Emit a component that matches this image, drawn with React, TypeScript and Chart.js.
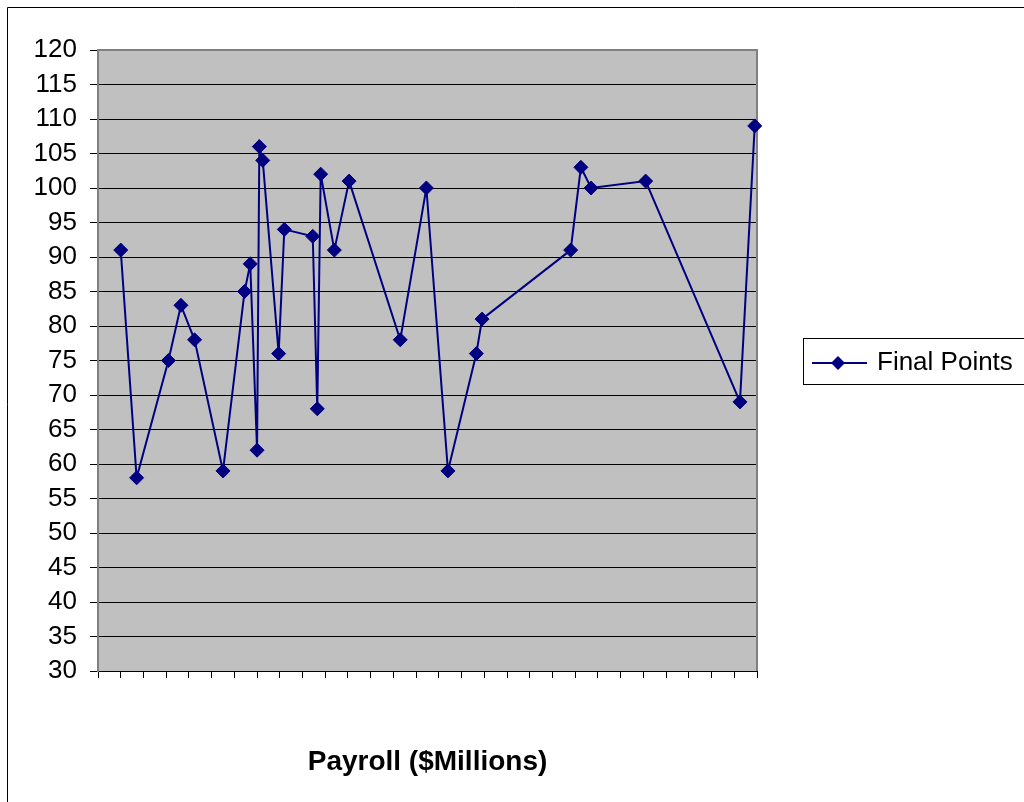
import React, { useEffect, useRef } from "react";
import { Chart, registerables } from "chart.js";

Chart.register(...registerables);

// Data
const payrollMillions: number[] = [
  22.0, 23.4, 26.2, 27.3, 28.5, 31.0, 32.9, 33.4, 34.0, 34.2, 34.5, 35.9, 36.4,
  38.9, 39.3, 39.6, 40.8, 42.1, 46.6, 48.9, 50.8, 53.3, 53.8, 61.6, 62.5, 63.4,
  68.2, 76.5, 77.8,
];
const finalPoints: number[] = [
  91, 58, 75, 83, 78, 59, 85, 89, 62, 106, 104, 76, 94, 93, 68, 102, 91, 101,
  78, 100, 59, 76, 81, 91, 103, 100, 101, 69, 109,
];
const seriesLabel = "Final Points";
const xAxisTitle = "Payroll ($Millions)";
const xRange = { min: 20, max: 78, step: 2 };
const yRange = { min: 30, max: 120, step: 5 };

const FONT = '"Liberation Sans", Arial, Helvetica, sans-serif';
const NAVY = "#000080";
const W = 1017;
const H = 795;

const decorPlugin = {
  id: "decor",
  beforeDraw(chart: any) {
    const { ctx, chartArea } = chart;
    ctx.save();
    ctx.fillStyle = "#C0C0C0";
    ctx.fillRect(
      chartArea.left,
      chartArea.top,
      chartArea.right - chartArea.left,
      chartArea.bottom - chartArea.top
    );
    ctx.restore();
  },
  beforeDatasetsDraw(chart: any) {
    const { ctx, chartArea } = chart;
    ctx.save();
    ctx.strokeStyle = "#808080";
    ctx.lineWidth = 2;
    ctx.beginPath();
    ctx.moveTo(chartArea.left, chartArea.top);
    ctx.lineTo(chartArea.right, chartArea.top);
    ctx.lineTo(chartArea.right, chartArea.bottom);
    ctx.stroke();
    ctx.restore();
  },
  afterDraw(chart: any) {
    const { ctx } = chart;
    ctx.save();
    // outer chart border (top and left visible)
    ctx.strokeStyle = "#000000";
    ctx.lineWidth = 1;
    ctx.beginPath();
    ctx.moveTo(0.5, H);
    ctx.lineTo(0.5, 0.5);
    ctx.lineTo(W, 0.5);
    ctx.stroke();

    // legend
    const bx = 796.5;
    const by = 331.5;
    ctx.strokeStyle = "#000000";
    ctx.strokeRect(bx, by, 300, 46);
    const ly = 356;
    ctx.strokeStyle = NAVY;
    ctx.lineWidth = 2;
    ctx.beginPath();
    ctx.moveTo(805, ly);
    ctx.lineTo(860, ly);
    ctx.stroke();
    const cx = 831;
    const r = 7;
    ctx.fillStyle = NAVY;
    ctx.beginPath();
    ctx.moveTo(cx, ly - r);
    ctx.lineTo(cx + r, ly);
    ctx.lineTo(cx, ly + r);
    ctx.lineTo(cx - r, ly);
    ctx.closePath();
    ctx.fill();
    ctx.fillStyle = "#000000";
    ctx.font = `26px ${FONT}`;
    ctx.textAlign = "left";
    ctx.textBaseline = "middle";
    ctx.fillText(seriesLabel, 870, ly);
    ctx.restore();
  },
};

export default function App() {
  const canvasRef = useRef<HTMLCanvasElement | null>(null);

  useEffect(() => {
    if (!canvasRef.current) return;
    const data = payrollMillions.map((x, i) => ({ x, y: finalPoints[i] }));
    const chart = new Chart(canvasRef.current, {
      type: "line",
      data: {
        datasets: [
          {
            label: seriesLabel,
            data,
            borderColor: NAVY,
            backgroundColor: NAVY,
            borderWidth: 2,
            tension: 0,
            pointStyle: "rectRot",
            pointRadius: 7,
            pointHoverRadius: 7,
            pointBackgroundColor: NAVY,
            pointBorderColor: NAVY,
            pointBorderWidth: 1,
            clip: false as any,
            fill: false,
          },
        ],
      },
      options: {
        responsive: false,
        animation: false,
        devicePixelRatio: 1,
        layout: { padding: { left: 0, right: W - 750, top: 43, bottom: 0 } },
        plugins: {
          legend: { display: false },
          tooltip: { enabled: false },
        },
        scales: {
          x: {
            type: "linear",
            min: xRange.min,
            max: xRange.max,
            ticks: {
              display: false,
              stepSize: xRange.step,
              autoSkip: false,
            },
            grid: {
              drawOnChartArea: false,
              drawTicks: true,
              tickLength: 7,
              color: "#000000",
              lineWidth: 1,
            },
            border: { color: "#000000", width: 1 },
            title: {
              display: true,
              text: xAxisTitle,
              color: "#000000",
              font: { family: FONT, size: 28, weight: "bold" },
              padding: { top: 0, bottom: 23 },
            },
            afterFit(scale: any) {
              scale.height = 131;
            },
          },
          y: {
            type: "linear",
            min: yRange.min,
            max: yRange.max,
            ticks: {
              stepSize: yRange.step,
              autoSkip: false,
              color: "#000000",
              padding: 13,
              font: { family: FONT, size: 26 },
            },
            grid: {
              color: "#000000",
              lineWidth: 1,
              drawTicks: true,
              tickLength: 8,
            },
            border: { color: "#808080", width: 2 },
            afterFit(scale: any) {
              scale.width = 91;
            },
          },
        },
      },
      plugins: [decorPlugin],
    });
    return () => chart.destroy();
  }, []);

  return (
    <div
      style={{
        position: "fixed",
        left: 7,
        top: 7,
        width: W,
        height: H,
        background: "#ffffff",
      }}
    >
      <canvas
        ref={canvasRef}
        width={W}
        height={H}
        style={{ display: "block", width: W, height: H }}
      />
    </div>
  );
}
